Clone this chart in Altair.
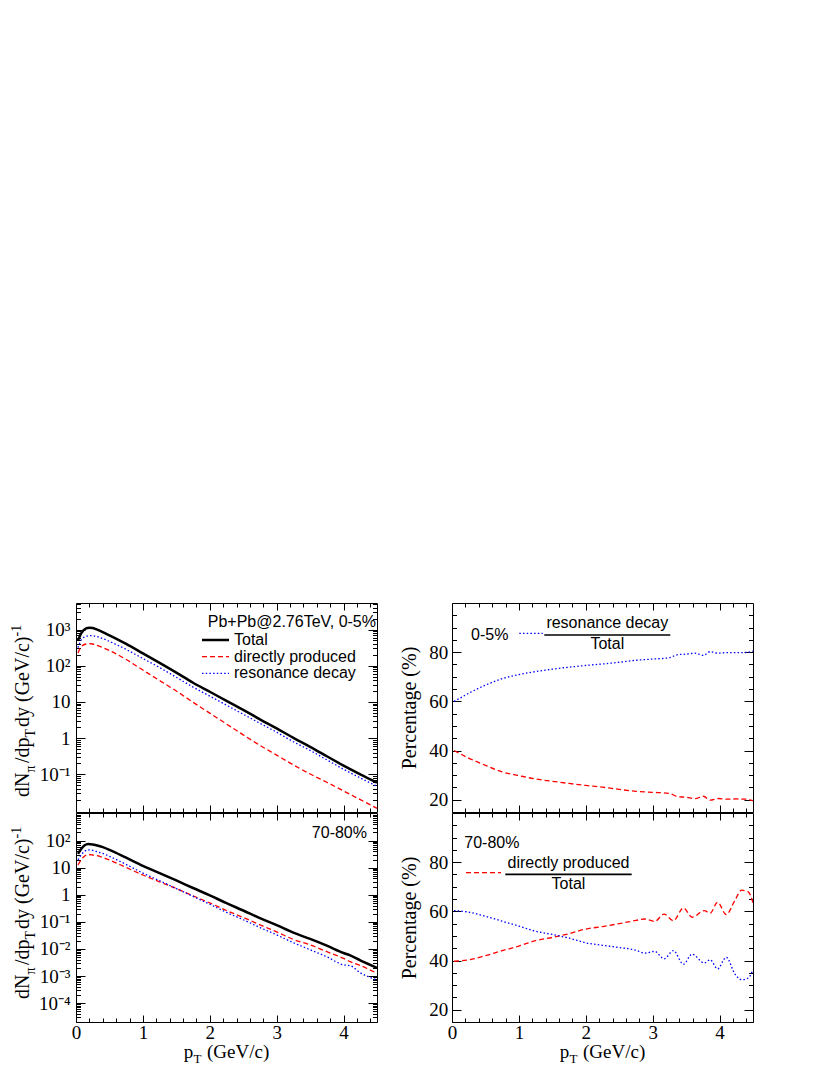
import altair as alt
import pandas as pd

# ---------------- values ----------------
# left column: pion pT spectra (log scale)
pt_spec_c05 = [0.03, 0.08, 0.15, 0.2, 0.25, 0.3, 0.4, 0.5, 0.75, 1.0, 1.25, 1.5,
               1.75, 2.0, 2.25, 2.5, 2.75, 3.0, 3.25, 3.5, 3.75, 4.0, 4.25, 4.5]
total_c05 = [500, 795, 1070, 1120, 1100, 1020, 850, 690, 400, 219, 120, 64.6,
             33.9, 19.1, 10.7, 6.03, 3.31, 1.86, 1.02, 0.575, 0.316, 0.174, 0.100, 0.0589]
direct_c05 = [224, 339, 398, 407, 398, 372, 316, 263, 148, 75.9, 38.9, 20.0,
              9.77, 4.90, 2.45, 1.23, 0.631, 0.339, 0.182, 0.102, 0.0603, 0.0347, 0.0200, 0.0115]
reso_c05 = [316, 525, 645, 676, 676, 645, 562, 468, 282, 158, 89.1, 47.9,
            25.7, 14.5, 8.13, 4.57, 2.57, 1.45, 0.794, 0.457, 0.251, 0.138, 0.0794, 0.0468]

pt_spec_c7080 = [0.03, 0.08, 0.13, 0.18, 0.25, 0.3, 0.4, 0.5, 0.75, 1.0, 1.25, 1.5,
                 1.75, 2.0, 2.25, 2.5, 2.75, 3.0, 3.25, 3.5, 3.75, 4.0, 4.1, 4.25, 4.5]
total_c7080 = [32.4, 50.1, 67.6, 75.9, 72.4, 67.6, 57.5, 45.7, 23.4, 11.7, 6.31, 3.39,
               1.78, 0.955, 0.490, 0.263, 0.138, 0.0759, 0.0398, 0.0234, 0.0132, 0.00708,
               0.00575, 0.00380, 0.00200]
direct_c7080 = [12.6, 20.0, 26.9, 30.9, 29.5, 28.2, 24.0, 19.3, 10.2, 5.37, 3.02, 1.70,
                0.912, 0.501, 0.263, 0.145, 0.0776, 0.0427, 0.0224, 0.0141, 0.00794, 0.00447,
                0.00339, 0.00245, 0.00126]
reso_c7080 = [19.5, 30.2, 40.7, 45.7, 43.7, 39.8, 33.9, 26.3, 13.2, 6.31, 3.31, 1.70,
              0.871, 0.447, 0.224, 0.120, 0.0617, 0.0331, 0.0170, 0.00933, 0.00513, 0.00257,
              0.00240, 0.00132, 0.000724]

# right column: fractions of the total (%)
pt_ratio_c05 = [0.03, 0.1, 0.25, 0.5, 0.75, 1.0, 1.25, 1.5, 1.75, 2.0, 2.25, 2.5, 2.75,
                3.0, 3.24, 3.38, 3.5, 3.63, 3.76, 3.86, 3.98, 4.1, 4.25, 4.4, 4.5]
reso_frac_c05 = [60.0, 61.0, 63.3, 66.6, 69.2, 70.9, 72.1, 73.1, 73.9, 74.6, 75.2, 75.9, 76.7,
                 77.2, 77.7, 79.0, 79.2, 79.6, 78.7, 80.2, 79.6, 79.8, 79.8, 79.9, 80.4]
direct_frac_c05 = [40.0, 39.0, 36.9, 34.0, 31.3, 29.8, 28.4, 27.5, 26.6, 25.8, 25.1, 24.2, 23.4,
                   23.0, 22.6, 21.2, 21.0, 20.4, 21.4, 19.8, 20.5, 20.2, 20.3, 20.2, 19.6]

pt_ratio_c7080 = [0.03, 0.25, 0.5, 0.75, 1.0, 1.25, 1.5, 1.75, 2.0, 2.25, 2.5, 2.75, 2.88,
                  3.03, 3.17, 3.31, 3.46, 3.59, 3.77, 3.86, 3.97, 4.1, 4.23, 4.33, 4.43, 4.5]
reso_frac_c7080 = [60.3, 59.7, 58.0, 56.0, 54.0, 51.9, 50.6, 49.1, 47.2, 46.2, 45.3, 44.2, 43.0,
                   43.7, 40.7, 44.0, 38.5, 42.6, 39.0, 40.3, 36.6, 41.3, 34.5, 32.2, 32.9, 36.3]
direct_frac_c7080 = [39.7, 40.3, 42.0, 44.0, 45.9, 48.1, 49.4, 50.9, 52.8, 53.8, 55.0, 56.3, 56.9,
                     55.9, 58.9, 56.2, 61.4, 57.6, 60.3, 59.3, 63.7, 58.7, 64.5, 68.6, 67.9, 63.4]

# axis ticks
x_major = [0, 1, 2, 3, 4]
x_minor = [0.2, 0.4, 0.6, 0.8, 1.2, 1.4, 1.6, 1.8, 2.2, 2.4, 2.6, 2.8,
           3.2, 3.4, 3.6, 3.8, 4.2, 4.4]
y_major_c05 = [0.1, 1, 10, 100, 1000]
y_minor_c05 = [m * 10.0 ** k for k in range(-2, 4) for m in range(2, 10) if m * 10.0 ** k < 5400]
y_major_c7080 = [1e-4, 1e-3, 1e-2, 0.1, 1, 10, 100]
y_minor_c7080 = [m * 10.0 ** k for k in range(-5, 3) for m in range(2, 10)]
pct_major = [20, 40, 60, 80]
pct_minor = [15, 25, 30, 35, 45, 50, 55, 65, 70, 75, 85, 90, 95]

log_labels = ("['10\u207b\u2074','10\u207b\u00b3','10\u207b\u00b2','10\u207b\u00b9','1','10',"
              "'10\u00b2','10\u00b3'][round(log(datum.value)/LN10)+4]")

SERIF = "Liberation Serif, Times New Roman, serif"
SANS = "Liberation Sans, Arial, sans-serif"
W, H = 301, 209

STYLE = {
    "Total": dict(color="#000000", strokeWidth=2.5),
    "directly produced": dict(color="#ff0000", strokeWidth=1.3, strokeDash=[5, 3]),
    "resonance decay": dict(color="#0000ff", strokeWidth=1.3, strokeDash=[1.5, 2.2]),
}


def long_df(pt, pairs):
    rows = []
    for name, vals in pairs:
        for p, v in zip(pt, vals):
            rows.append({"pt": p, "value": v, "series": name})
    return pd.DataFrame(rows)


ONE = pd.DataFrame({"k": [0]})


def txt(s, x, y, size=16, font=SANS, align="left", angle=0):
    kw = dict(text=s, font=font, fontSize=size, align=align, baseline="alphabetic", color="black")
    if angle:
        kw["angle"] = angle
    return alt.Chart(ONE).mark_text(**kw).encode(x=alt.value(x), y=alt.value(y))


def seg(x1, x2, y, color="black", width=1.0, dash=None):
    kw = dict(color=color, strokeWidth=width)
    if dash:
        kw["strokeDash"] = dash
    return alt.Chart(ONE).mark_rule(**kw).encode(x=alt.value(x1), x2=alt.value(x2), y=alt.value(y))


def ytitle_pieces(y0):
    # dN_pi/dp_T dy (GeV/c)^-1, written bottom-to-top
    out = []
    parts = [("dN", 20, 0, 24.4), ("\u03c0", 14, 6, 9.5), ("/dp", 20, 0, 25.6),
             ("T", 14, 6, 10.5), ("dy (GeV/c)", 20, 0, 90.5), ("-1", 14, -8, 12)]
    y = y0
    for s, size, dx, adv in parts:
        out.append(txt(s, -47 + dx, y, size=size, font=SERIF, angle=270))
        y -= adv
    return out


def xtitle_pieces():
    return [txt("p", 107.7, 245, size=19, font=SERIF),
            txt("T", 117.4, 250, size=13, font=SERIF),
            txt("(GeV/c)", 131, 245, size=19, font=SERIF)]


def panel(df, names, ys, ymaj, ymin, ylab_expr, show_x, ytitle, ylabpad, anchor_val, extras):
    xs = alt.Scale(domain=[0, 4.5], nice=False, zero=False)
    layers = []
    for nm in names:
        layers.append(
            alt.Chart(df).transform_filter(alt.datum.series == nm)
            .mark_line(clip=True, interpolate="monotone", **STYLE[nm])
            .encode(x=alt.X("pt:Q", scale=xs, axis=None),
                    y=alt.Y("value:Q", scale=ys, axis=None))
        )
    anchor = pd.DataFrame({"pt": [1.0], "value": [anchor_val]})
    base_ax = dict(grid=False, domainColor="black", domainWidth=1, tickColor="black",
                   tickWidth=1, labelFlush=False, labelOverlap=False)

    def ax(**kw):
        d = dict(base_ax)
        d.update(kw)
        if "title" not in d:
            d["title"] = None
        return alt.Axis(**d)

    def axis_layer(xa, ya):
        return alt.Chart(anchor).mark_point(opacity=0).encode(
            x=alt.X("pt:Q", scale=xs, axis=xa), y=alt.Y("value:Q", scale=ys, axis=ya))

    if show_x:
        xlab = dict(labels=True, labelFont=SERIF, labelFontSize=19, labelColor="black",
                    labelPadding=8, format="d")
    else:
        xlab = dict(labels=False)
    ylab = dict(labels=True, labelFont=SERIF, labelFontSize=19, labelColor="black",
                labelPadding=ylabpad)
    if ylab_expr:
        ylab["labelExpr"] = ylab_expr
    if ytitle:
        ylab.update(title=ytitle, titleFont=SERIF, titleFontSize=20, titleFontWeight="normal",
                    titleColor="black", titlePadding=9)
    layers.append(axis_layer(
        ax(orient="bottom", values=x_major, tickSize=alt.ExprRef(expr="-7"), domain=True, **xlab),
        ax(orient="left", values=ymaj, tickSize=alt.ExprRef(expr="-9"), domain=True, **ylab)))
    layers.append(axis_layer(
        ax(orient="bottom", values=x_minor, tickSize=alt.ExprRef(expr="-4"), domain=False, labels=False),
        ax(orient="left", values=ymin, tickSize=alt.ExprRef(expr="-4.5"), domain=False, labels=False)))
    layers.append(axis_layer(
        ax(orient="top", values=x_major, tickSize=alt.ExprRef(expr="-7"), domain=True, labels=False),
        ax(orient="right", values=ymaj, tickSize=alt.ExprRef(expr="-9"), domain=True, labels=False)))
    layers.append(axis_layer(
        ax(orient="top", values=x_minor, tickSize=alt.ExprRef(expr="-4"), domain=False, labels=False),
        ax(orient="right", values=ymin, tickSize=alt.ExprRef(expr="-4.5"), domain=False, labels=False)))
    layers += extras
    return alt.layer(*layers).resolve_axis(x="independent", y="independent").properties(width=W, height=H)


names = ["directly produced", "resonance decay", "Total"]

df_tl = long_df(pt_spec_c05, [("Total", total_c05), ("directly produced", direct_c05),
                              ("resonance decay", reso_c05)])
df_bl = long_df(pt_spec_c7080, [("Total", total_c7080), ("directly produced", direct_c7080),
                                ("resonance decay", reso_c7080)])
df_tr = long_df(pt_ratio_c05, [("directly produced", direct_frac_c05),
                               ("resonance decay", reso_frac_c05)])
df_br = long_df(pt_ratio_c7080, [("directly produced", direct_frac_c7080),
                                 ("resonance decay", reso_frac_c7080)])

ys_tl = alt.Scale(type="log", domain=[0.0091, 5400], nice=False)
ys_bl = alt.Scale(type="log", domain=[2.0e-5, 1050], nice=False)
ys_pct = alt.Scale(domain=[15, 100], nice=False, zero=False)

extras_tl = [
    txt("Pb+Pb@2.76TeV, 0-5%", 300, 24.3, align="right"),
    seg(126, 153, 37, color="#000000", width=2.5),
    txt("Total", 158, 42),
    seg(126, 153, 53.7, color="#ff0000", width=1.3, dash=[5, 3]),
    txt("directly produced", 158, 58.7),
    seg(126, 153, 70.3, color="#0000ff", width=1.3, dash=[1.5, 2.2]),
    txt("resonance decay", 158, 75.3),
] + ytitle_pieces(194)

extras_bl = [txt("70-80%", 291, 25.3, align="right")] + ytitle_pieces(186) + xtitle_pieces()

extras_tr = [
    txt("0-5%", 19, 37),
    seg(67.3, 90.7, 30.3, color="#0000ff", width=1.3, dash=[1.5, 2.2]),
    txt("resonance decay", 155.3, 25.3, align="center"),
    seg(92.3, 218.3, 32, width=1.7),
    txt("Total", 155.3, 46.3, align="center"),
]

extras_br = [
    txt("70-80%", 12.3, 34.7),
    seg(14, 49, 59.7, color="#ff0000", width=1.3, dash=[5, 3]),
    txt("directly produced", 116.5, 54.7, align="center"),
    seg(53.3, 179.7, 61.3, width=1.7),
    txt("Total", 116.5, 76.3, align="center"),
] + xtitle_pieces()

tl = panel(df_tl, names, ys_tl, y_major_c05, y_minor_c05, log_labels, False, None, 15, 1.0, extras_tl)
bl = panel(df_bl, names, ys_bl, y_major_c7080, y_minor_c7080, log_labels, True, None, 15, 1.0, extras_bl)
tr = panel(df_tr, names, ys_pct, pct_major, pct_minor, None, False, "Percentage (%)", 13.3, 50, extras_tr)
br = panel(df_br, names, ys_pct, pct_major, pct_minor, None, True, "Percentage (%)", 13.3, 50, extras_br)

left = alt.vconcat(tl, bl, spacing=-2)
right = alt.vconcat(tr, br, spacing=-2)

chart = (
    alt.hconcat(left, right, spacing=21)
    .properties(padding={"left": 1, "top": 594, "right": 5, "bottom": 0}, background="white")
    .configure_view(stroke="transparent")
)

chart.save("out.html", embed_options={"renderer": "svg", "actions": False})
